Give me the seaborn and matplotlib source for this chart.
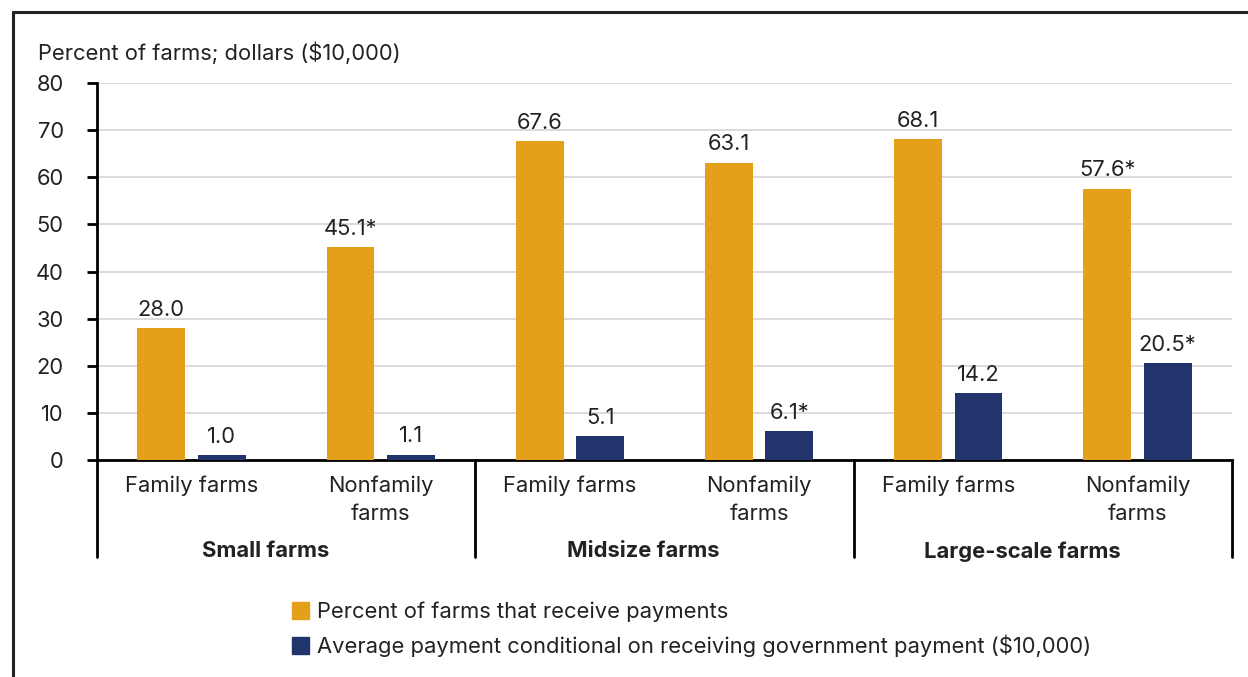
import matplotlib
matplotlib.use("Agg")
import matplotlib.pyplot as plt
from matplotlib.lines import Line2D
import seaborn as sns
import pandas as pd

# Data
groups = ["Small farms", "Midsize farms", "Large-scale farms"]
farm_types = ["Family farms", "Nonfamily\nfarms"]
pct_receiving = [28.0, 45.1, 67.6, 63.1, 68.1, 57.6]
avg_payment = [1.0, 1.1, 5.1, 6.1, 14.2, 20.5]
pct_labels = ["28.0", "45.1*", "67.6", "63.1", "68.1", "57.6*"]
pay_labels = ["1.0", "1.1", "5.1", "6.1*", "14.2", "20.5*"]
series_names = ["Percent of farms that receive payments",
                "Average payment conditional on receiving government payment ($10,000)"]
y_ticks = [0, 10, 20, 30, 40, 50, 60, 70, 80]
y_title = "Percent of farms; dollars ($10,000)"

orange = "#E5A01B"
navy = "#22346C"
text_color = "#222222"
fs = 15.8

sns.set_style("white")
plt.rcParams["font.family"] = ["Inter", "DejaVu Sans"]

slots = [f"{g}|{t}" for g in groups for t in farm_types]
df = pd.DataFrame({
    "slot": slots * 2,
    "value": pct_receiving + avg_payment,
    "series": [series_names[0]] * 6 + [series_names[1]] * 6,
})

fig = plt.figure(figsize=(12.48, 6.77), dpi=100)
ax = fig.add_axes([97 / 1248, 1 - 460 / 677, (1232 - 97) / 1248, (460 - 83) / 677])

sns.barplot(data=df, x="slot", y="value", hue="series", order=slots,
            hue_order=series_names, palette=[orange, navy],
            width=0.64, gap=0.21, saturation=1, linewidth=0,
            ax=ax, legend=False, zorder=3)

ax.set_xlim(-0.5, 5.5)
ax.set_ylim(0, 80)
ax.set_yticks(y_ticks)
ax.set_yticklabels([str(v) for v in y_ticks], fontsize=fs, color=text_color)
ax.yaxis.grid(True, color="#d4d4d4", linewidth=1.2, zorder=0)
ax.set_axisbelow(True)
ax.tick_params(axis="y", length=7, width=2, color="black", pad=17, left=True)
ax.tick_params(axis="x", length=0, bottom=False)
ax.set_xticks([])
ax.set_xlabel("")
ax.set_ylabel("")

for side in ["top", "right"]:
    ax.spines[side].set_visible(False)
for side in ["left", "bottom"]:
    ax.spines[side].set_color("black")
    ax.spines[side].set_linewidth(2)
ax.spines["bottom"].set_bounds(-0.5, 5.5)

# Value labels on the bars
for container, labels in zip(ax.containers, [pct_labels, pay_labels]):
    ax.bar_label(container, labels=labels, padding=6, fontsize=fs, color=text_color)

# Category and group labels below the axis
xt = ax.get_xaxis_transform()
for i, slot in enumerate(slots):
    ftype = slot.split("|")[1]
    ax.text(i, -0.042, ftype, transform=xt, ha="center", va="top",
            fontsize=fs, color=text_color, linespacing=1.45)
for gi, g in enumerate(groups):
    ax.text(2 * gi + 0.39, -0.215, g, transform=xt, ha="center", va="top",
            fontsize=fs, fontweight="bold", color=text_color)
for xs in [-0.5, 1.5, 3.5, 5.5]:
    ax.add_line(Line2D([xs, xs], [0, -0.258], transform=xt, color="black",
                       linewidth=2, clip_on=False))

# Axis title
fig.text(38 / 1248, 1 - 53 / 677, y_title, ha="left", va="center",
         fontsize=fs, color=text_color)

# Legend
handles = [plt.Rectangle((0, 0), 1, 1, color=c) for c in [orange, navy]]
fig.legend(handles, series_names, loc="upper left",
           bbox_to_anchor=(283 / 1248, 1 - 593 / 677), frameon=False,
           fontsize=fs, handlelength=0.8, handleheight=0.8,
           handletextpad=0.35, labelspacing=0.55, borderaxespad=0,
           labelcolor=text_color)

# Outer frame (left and top edges)
fig.add_artist(Line2D([12.5 / 1248, 12.5 / 1248], [0, 1 - 12 / 677],
                      transform=fig.transFigure, color="#222222", linewidth=2.2))
fig.add_artist(Line2D([12.5 / 1248, 1], [1 - 12 / 677, 1 - 12 / 677],
                      transform=fig.transFigure, color="#222222", linewidth=2.2))

fig.savefig("out.png", dpi=100, facecolor="white")
